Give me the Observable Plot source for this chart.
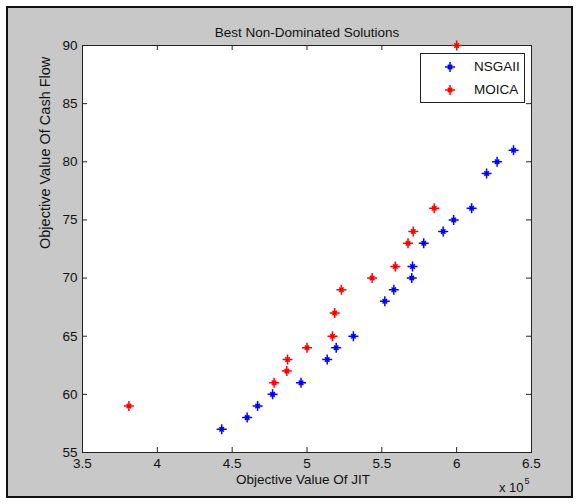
<!DOCTYPE html>
<html><head><meta charset="utf-8">
<script src="https://cdn.jsdelivr.net/npm/d3@7"></script>
<script src="https://cdn.jsdelivr.net/npm/@observablehq/plot@0.6"></script>
<style>
html,body{margin:0;padding:0;background:#fff;}
#wrap{position:relative;width:579px;height:504px;font-family:"Liberation Sans",Arial,sans-serif;overflow:hidden;}
#panel{position:absolute;left:6px;top:6px;width:567px;height:492px;box-sizing:border-box;border:2px solid #111;background:#c8c8c8;}
#chart{position:absolute;left:0;top:0;}
#legend{position:absolute;left:420px;top:53px;width:105px;height:50px;box-sizing:border-box;border:1px solid #222;background:#fff;font-size:13.5px;color:#111;}
.item{position:absolute;left:0;width:100%;height:16px;}
.item svg{position:absolute;left:21px;top:0;}
.item span{position:absolute;left:53px;top:0;line-height:16px;}
</style>
</head><body>
<div id="wrap"><div id="panel"></div><div id="chart"></div><div id="legend"></div></div>
<script>
// ---- data ----
const title = "Best Non-Dominated Solutions";
const xLabel = "Objective Value Of JIT";
const yLabel = "Objective Value Of Cash Flow";
const xExponentBase = "x 10";
const xExponent = "5";
const seriesNames = ["NSGAII", "MOICA"];
const seriesColors = ["#0000ff", "#ff0000"];
const xTicks = [350000, 400000, 450000, 500000, 550000, 600000, 650000];
const yTicks = [55, 60, 65, 70, 75, 80, 85, 90];

const nsgaJIT = [443000, 460000, 467000, 477000, 496000, 513500, 519500, 531000, 552000, 558000, 570000, 570500, 578000, 591000, 598000, 610000, 620000, 627000, 638000];
const nsgaCash = [57, 58, 59, 60, 61, 63, 64, 65, 68, 69, 70, 71, 73, 74, 75, 76, 79, 80, 81];
const moicaJIT = [381000, 478000, 486500, 487000, 500000, 517000, 518500, 523000, 543500, 559000, 567500, 571000, 585000, 600000];
const moicaCash = [59, 61, 62, 63, 64, 65, 67, 69, 70, 71, 73, 74, 76, 90];

// ---- build table ----
const rows = [
  ...nsgaJIT.map((x, i) => ({x, y: nsgaCash[i], s: seriesNames[0]})),
  ...moicaJIT.map((x, i) => ({x, y: moicaCash[i], s: seriesNames[1]}))
];

// MATLAB-like '*' marker
const star = {
  draw(ctx, size) {
    const r = Math.sqrt(size / Math.PI), d = r * 0.45;
    ctx.moveTo(-r, 0); ctx.lineTo(r, 0);
    ctx.moveTo(0, -r); ctx.lineTo(0, r);
    ctx.moveTo(-d, -d); ctx.lineTo(d, d);
    ctx.moveTo(-d, d); ctx.lineTo(d, -d);
  }
};

const W = 579, H = 504, mL = 82, mR = 48, mT = 45, mB = 52;
const pw = W - mL - mR, ph = H - mT - mB, tk = 5;
const font = '"Liberation Sans", Arial, sans-serif';

const chart = Plot.plot({
  width: W, height: H,
  marginLeft: mL, marginRight: mR, marginTop: mT, marginBottom: mB,
  style: {background: "transparent", fontFamily: font, fontSize: "13px", color: "#111"},
  x: {domain: [350000, 650000]},
  y: {domain: [55, 90]},
  color: {domain: seriesNames, range: seriesColors},
  marks: [
    Plot.frame({fill: "white", stroke: null}),
    Plot.tickX(xTicks, {x: d => d, stroke: "#222", insetTop: ph - tk}),
    Plot.tickX(xTicks, {x: d => d, stroke: "#222", insetBottom: ph - tk}),
    Plot.tickY(yTicks, {y: d => d, stroke: "#222", insetRight: pw - tk}),
    Plot.tickY(yTicks, {y: d => d, stroke: "#222", insetLeft: pw - tk}),
    Plot.frame({stroke: "#222", strokeWidth: 1}),
    Plot.axisX({ticks: xTicks, tickSize: 0, tickPadding: 6, tickFormat: d => d / 1e5, label: null, fontSize: 13.5, fill: "#111"}),
    Plot.axisY({ticks: yTicks, tickSize: 0, tickPadding: 5, tickFormat: d => d, label: null, fontSize: 13.5, fill: "#111"}),
    Plot.dot(rows, {x: "x", y: "y", stroke: "s", symbol: star, r: 5, strokeWidth: 1.5}),
    Plot.text([title], {text: d => d, frameAnchor: "top", dy: -18, fontSize: 13.5, fill: "#111"}),
    Plot.text([xLabel], {text: d => d, frameAnchor: "bottom", dy: 31, dx: -4, fontSize: 13.5, fill: "#111"}),
    Plot.text([yLabel], {text: d => d, frameAnchor: "left", dx: -37, rotate: -90, fontSize: 14.5, fill: "#111"}),
    Plot.text([xExponentBase], {text: d => d, frameAnchor: "bottom-right", textAnchor: "end", dx: -8, dy: 39, fontSize: 13, fill: "#111"}),
    Plot.text([xExponent], {text: d => d, frameAnchor: "bottom-right", textAnchor: "start", dx: -7, dy: 31, fontSize: 9, fill: "#111"})
  ]
});
document.getElementById("chart").appendChild(chart);

// ---- legend ----
const legend = document.getElementById("legend");
seriesNames.forEach((name, i) => {
  const item = document.createElement("div");
  item.className = "item";
  item.style.top = (5 + i * 23) + "px";
  const p = d3.path();
  star.draw(p, Math.PI * 25);
  item.innerHTML = `<svg width="16" height="16" viewBox="-8 -8 16 16"><path d="${p}" fill="none" stroke="${seriesColors[i]}" stroke-width="1.5"/></svg><span>${name}</span>`;
  legend.appendChild(item);
});
</script>
</body></html>
